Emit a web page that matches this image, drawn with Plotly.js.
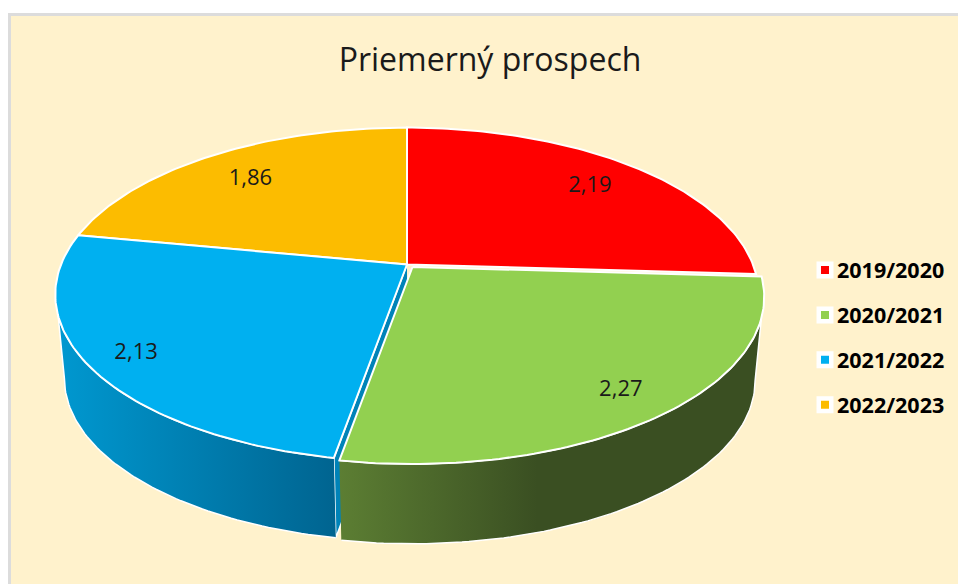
<!DOCTYPE html>
<html><head><meta charset="utf-8">
<script src="https://cdn.plot.ly/plotly-3.0.1.min.js"></script>
<style>html,body{margin:0;padding:0;background:#fff}#c{width:958px;height:584px}</style>
</head><body><div id="c"></div>
<script>
// Data
const titleText = "Priemerný prospech";
const categories = ["2019/2020", "2020/2021", "2021/2022", "2022/2023"];
const prospech = [2.19, 2.27, 2.13, 1.86];
const colors = ["#FF0000", "#92D050", "#00B0F0", "#FCBC00"];

// View of the tilted disc (pixel-like axis units)
const W = 958, H = 584;
const apex = {x: 407, y: 264.5}, R = 346, S = 161.6, K = 0.18;
const lower = {y: 349, R: 337, S: 157.7};
const greenShift = {x: 5.5, y: 2.5};
const labelR = [0.77, 0.85, 0.87, 0.77];
const labelNudgeX = [6, 1, 1, -3], labelNudgeY = [0, 1, 1, 2];

const total = prospech.reduce((a, b) => a + b, 0);
const edges = [0];
prospech.forEach(v => edges.push(edges[edges.length - 1] + v / total * 360));

function project(deg, r, top, shift) {
  const t = deg * Math.PI / 180, u = r * Math.sin(t), v = r * Math.cos(t), w = 1 + K * v;
  const s = shift || {x: 0, y: 0};
  return top
    ? [apex.x + R * u / w + s.x, apex.y - S * v / w + s.y]
    : [apex.x + lower.R * u / w + s.x, lower.y - lower.S * v / w + s.y];
}
function arc(a, b, top, shift) {
  const n = Math.max(2, Math.ceil(Math.abs(b - a))), pts = [];
  for (let i = 0; i <= n; i++) pts.push(project(a + (b - a) * i / n, 1, top, shift));
  return pts;
}
function poly(pts, extra) {
  return Object.assign({
    x: pts.map(p => p[0]), y: pts.map(p => p[1]), type: "scatter", mode: "lines",
    fill: "toself", line: {color: "#FFFFFF", width: 2}, hoverinfo: "skip", showlegend: false
  }, extra);
}
function slice(i) {
  const s = i === 1 ? greenShift : null, o = project(0, 0, true, s);
  return poly([o].concat(arc(edges[i], edges[i + 1], true, s), [o]),
    {fillcolor: colors[i], name: categories[i]});
}

// Side walls (front of the disc only)
const a23 = edges[2];
const blueFace = poly([project(0, 0, true), project(a23, 1, true), project(a23, 1, false), project(0, 0, false)],
  {fillcolor: "#0083B8", line: {color: "#FFFFFF", width: 1.5}});
const blueWall = poly(arc(a23, 252.5, true).concat(arc(259.6, a23, false)), {
  line: {color: "#FFFFFF", width: 1.5},
  fillgradient: {type: "horizontal", colorscale: [[0, "#0098D0"], [1, "#006490"]]}
});
const greenWall = poly(arc(a23, 107.5, true, greenShift).concat(arc(100.4, a23, false, greenShift)), {
  line: {color: "#FFFFFF", width: 1.5},
  fillgradient: {type: "horizontal", colorscale: [[0, "#5C7E33"], [0.47, "#3A4F22"], [1, "#3A4F22"]]}
});

const labelPts = prospech.map((v, i) =>
  project((edges[i] + edges[i + 1]) / 2, labelR[i], true, i === 1 ? greenShift : null));
const labels = {
  x: labelPts.map((p, i) => p[0] + labelNudgeX[i]), y: labelPts.map((p, i) => p[1] + labelNudgeY[i]),
  text: prospech.map(v => v.toFixed(2).replace(".", ",")),
  type: "scatter", mode: "text", textposition: "middle center",
  textfont: {family: "Open Sans", size: 22, color: "#1A1A1A"},
  hoverinfo: "skip", showlegend: false
};
const legendTraces = categories.map((c, i) => ({
  x: [null], y: [null], type: "scatter", mode: "markers", name: c, legendgroup: c,
  marker: {symbol: "square", size: 12.5, color: colors[i], line: {color: "#FFFFFF", width: 4.5}},
  hoverinfo: "skip"
}));

const traces = [blueFace, blueWall, greenWall, slice(3), slice(2), slice(0), slice(1), labels].concat(legendTraces);

const layout = {
  width: W, height: H, margin: {l: 0, r: 0, t: 0, b: 0},
  paper_bgcolor: "#FFFFFF", plot_bgcolor: "rgba(0,0,0,0)",
  xaxis: {range: [0, W], visible: false, fixedrange: true},
  yaxis: {range: [H, 0], visible: false, fixedrange: true},
  shapes: [{type: "rect", layer: "below", xref: "x", yref: "y", x0: 9.5, y0: 14.5, x1: W + 10, y1: H + 10,
    fillcolor: "#FFF2CC", line: {color: "#DCDCDC", width: 3}}],
  title: {text: titleText, x: 490 / W, xanchor: "center", y: 1 - 60 / H, yanchor: "middle",
    font: {family: "Open Sans", size: 32, color: "#1A1A1A"}},
  showlegend: true,
  legend: {x: 797 / W, xanchor: "left", y: 1 - 267 / H + 0.03, yanchor: "top", bgcolor: "rgba(0,0,0,0)",
    font: {family: "Open Sans", size: 21.5, color: "#000000", weight: 700},
    tracegroupgap: 14, itemclick: false, itemdoubleclick: false}
};

Plotly.newPlot("c", traces, layout, {displayModeBar: false, responsive: false}).then(gd => {
  gd.querySelectorAll(".legend .legendsymbols").forEach(g => g.setAttribute("transform", "translate(8,0)"));
});
</script></body></html>
